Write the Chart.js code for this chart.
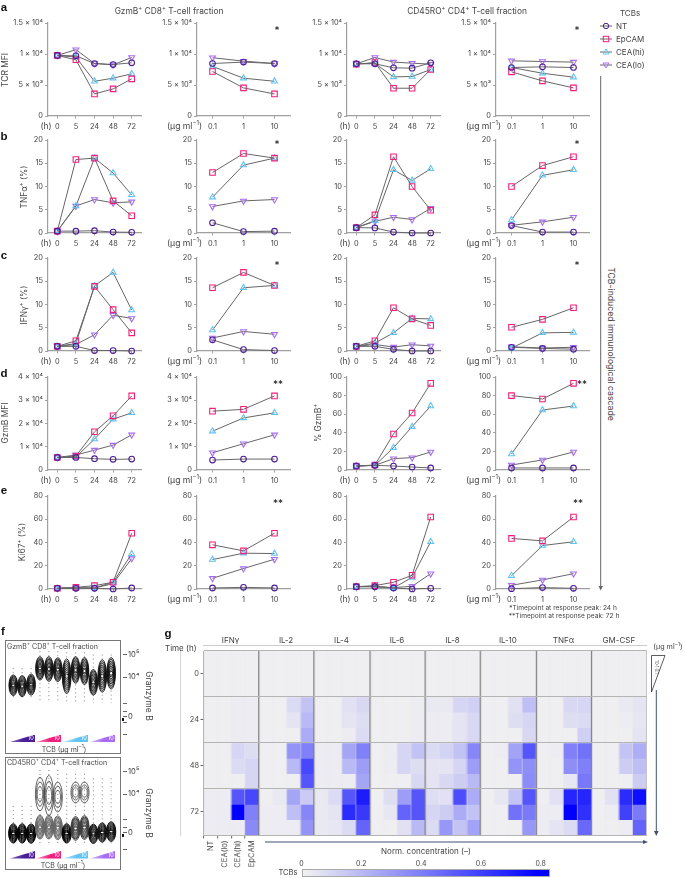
<!DOCTYPE html>
<html lang="en">
<head>
<meta charset="UTF-8">
<title>TCB-induced immunological cascade</title>
<script src="https://cdn.jsdelivr.net/npm/chart.js"></script>
<style>
  body { margin: 0; background: #fff; font-family: Inter, "Noto Sans", sans-serif; color: #444; }
  #page { position: relative; width: 685px; height: 878px; overflow: hidden; }
  canvas { position: absolute; }
  .t { position: absolute; white-space: nowrap; transform: translate(-50%, -50%); line-height: 1; }
  .t sup { font-size: 70%; line-height: 0; }
  .letter { font-weight: 700; font-size: 11.5px; color: #111; font-family: "Liberation Sans", sans-serif; }
  .wedge { position: absolute; clip-path: polygon(0 100%, 100% 0, 100% 100%); }
  .box { position: absolute; border: 1px solid #777; box-sizing: border-box; }
  svg { position: absolute; left: 0; top: 0; }
</style>
</head>
<body>
<div id="page"></div>
<script>
const timeLabels = ['0', '5', '24', '48', '72'];
const doseLabels = ['0.1', '1', '10'];
const tcbNames = ['NT', 'EpCAM', 'CEA(hi)', 'CEA(lo)'];

const tcrTicks = [0, 5000, 10000, 15000];
const tcrTickLabels = ['0', '5 × 10³', '1 × 10⁴', '1.5 × 10⁴'];
const pct20Ticks = [0, 5, 10, 15, 20];
const gzmbTicks = [0, 10000, 20000, 30000, 40000];
const gzmbTickLabels = ['0', '1 × 10⁴', '2 × 10⁴', '3 × 10⁴', '4 × 10⁴'];
const pct100Ticks = [0, 20, 40, 60, 80, 100];
const ki67Ticks = [0, 20, 40, 60, 80];

// each panel: NT, EpCAM, CEA(hi), CEA(lo)
const tcrCd8Time = [[9770, 9700, 8470, 8300, 8580], [9770, 9065, 3560, 4370, 5990], [9770, 9500, 5600, 6100, 6800], [9770, 10700, 8470, 8250, 9440]];
const tcrCd8Dose = [[8470, 8690, 8470], [7180, 4530, 3560], [8000, 6100, 5600], [9400, 8850, 8470]];
const tcrCd4Time = [[8420, 8420, 7770, 7720, 8580], [8360, 8630, 4480, 4480, 7500], [8420, 8500, 6310, 6370, 7500], [8420, 9440, 8690, 8520, 8360]];
const tcrCd4Dose = [[7820, 7930, 7820], [7120, 5660, 4530], [7820, 6900, 6260], [8900, 8790, 8690]];

const tnfCd8Time = [[0.4, 0.4, 0.5, 0.2, 0.15], [0.4, 15.8, 16.1, 6.9, 3.7], [0.4, 5.8, 16.1, 12.9, 8.2], [0.4, 5.8, 7.2, 6.5, 6.7]];
const tnfCd8Dose = [[2.2, 0.3, 0.4], [13, 17.1, 16.1], [7.7, 14.6, 16.1], [5.7, 6.9, 7.2]];
const tnfCd4Time = [[1.15, 1.1, 0.2, 0, 0], [1.15, 3.9, 16.4, 10, 4.9], [1.15, 2.65, 13.6, 11.3, 13.8], [1.15, 2.5, 3.4, 2.9, 5.3]];
const tnfCd4Dose = [[1.6, 0.2, 0.2], [10, 14.5, 16.4], [2.8, 12.4, 13.6], [1.65, 2.4, 3.4]];

const ifnCd8Time = [[1, 1, 0.1, 0.1, 0], [1, 2.2, 13.9, 8.9, 3.9], [1, 1.6, 14, 16.9, 8.8], [1, 1.4, 3.5, 7.7, 7]];
const ifnCd8Dose = [[2.4, 0.3, 0.1], [13.6, 16.9, 14.1], [4.5, 13.6, 14.1], [2.8, 4.2, 3.6]];
const ifnCd4Time = [[1, 1, 0.35, 0, 0], [1, 2.2, 9.3, 6.9, 5.5], [1, 1.7, 3.9, 7, 6.9], [1, 1.4, 0.85, 1.35, 1.1]];
const ifnCd4Dose = [[0.8, 0.55, 0.4], [5.1, 6.8, 9.3], [0.6, 3.9, 4], [0.9, 0.65, 0.8]];

const gzmbCd8Time = [[5400, 5400, 4860, 4570, 4700], [5400, 6000, 16430, 23300, 31860], [5400, 5570, 13300, 21860, 24570], [5400, 6430, 8570, 10700, 15140]];
const gzmbCd8Dose = [[4290, 4700, 4700], [25300, 26100, 31860], [16700, 22400, 24570], [7430, 11300, 15140]];
const gzmbCd4Time = [[4.3, 5, 4.3, 3.2, 2.2], [4.3, 5.4, 38.7, 61.3, 93.2], [4.3, 5, 24, 46.6, 68.8], [4.3, 5, 12.2, 13.3, 19.4]];
const gzmbCd4Dose = [[2.2, 2.2, 2.2], [80, 76.3, 93.2], [17.2, 64.5, 68.8], [5.4, 10.8, 19.4]];

const kiCd8Time = [[0.6, 0.6, 0.6, 0, 0.9], [0.6, 1.4, 2.9, 5.8, 48], [0.6, 0.9, 0.9, 5.8, 30.2], [0.6, 0.9, 0.9, 4.6, 26.2]];
const kiCd8Dose = [[0.9, 1.4, 0.9], [38, 32.8, 48], [25.3, 30.8, 30.5], [9.2, 17.6, 25.6]];
const kiCd4Time = [[2, 2, 0.9, 0, 0.6], [2, 2.9, 5.8, 11.8, 61.9], [2, 2.3, 0.9, 10, 40.6], [2, 2, 1.2, 2.3, 13.2]];
const kiCd4Dose = [[0.3, 1.2, 0.6], [43.5, 41.4, 61.9], [11.5, 37.4, 40.6], [3.2, 7.8, 13.2]];

// panel f, positions in decades on the biexponential axis
const fCd8Center = [3.64, 3.6, 3.67, 4.39, 4.36, 4.33, 4.04, 4.32, 4.27, 3.77, 4.05, 4.17];
const fCd8Half = [0.46, 0.47, 0.47, 0.52, 0.55, 0.53, 0.77, 0.59, 0.6, 0.57, 0.72, 0.7];
const fCd8TailHi = [4.4, 4.4, 4.4, 5.15, 5.15, 5.15, 5.1, 5.1, 5.1, 5, 5, 5];
const fCd8TailLo = [3, 3, 3, 2.85, 2.85, 2.85, 2.85, 2.85, 2.85, 2.85, 2.85, 2.85];
const fCd8Ticks = [5, 4, 2.84, 2.47, 2.24, 2, 1.47];
const fCd4Center = [2.25, 2.25, 2.24, 2.53, 2.53, 2.5, 2.25, 2.47, 2.51, 2.23, 2.29, 2.33];
const fCd4Half = [0.43, 0.43, 0.43, 0.53, 0.53, 0.53, 0.43, 0.53, 0.53, 0.43, 0.43, 0.44];
const fCd4UpperCenter = [null, null, null, 4, 3.93, 3.87, null, 4.07, 4.07, null, null, null];
const fCd4UpperHalf = [0, 0, 0, 0.75, 0.9, 0.67, 0, 0.47, 0.47, 0, 0, 0];
const fCd4TailHi = [3.47, 3.47, 3.47, 5.07, 5.07, 5.07, 4.9, 4.9, 4.9, 4.7, 4.7, 4.7];
const fCd4TailLo = [1.73, 1.73, 1.73, 1.73, 1.73, 1.73, 1.73, 1.73, 1.73, 1.73, 1.73, 1.73];
const fCd4Ticks = [5, 4, 2.87, 2.53, 2.27, 1.53];

// panel g, rows are 0 h, 24 h, 48 h, 72 h with three doses each; columns NT, CEA(lo), CEA(hi), EpCAM
const cytokines = ['IFNγ', 'IL-2', 'IL-4', 'IL-6', 'IL-8', 'IL-10', 'TNFα', 'GM-CSF'];
const doseColumns = ['NT', 'CEA(lo)', 'CEA(hi)', 'EpCAM'];
const timeRows = ['0', '24', '48', '72'];
const zeroBlock = [[0.01, 0.01, 0.01, 0.01], [0.01, 0.01, 0.01, 0.01], [0.01, 0.01, 0.01, 0.01]];
const heatIFNg = [...zeroBlock, [0.01, 0.01, 0.02, 0.02], [0.01, 0.01, 0.02, 0.02], [0.01, 0.01, 0.02, 0.02],
  [0.01, 0.01, 0.1, 0.07], [0.01, 0.01, 0.08, 0.1], [0.01, 0.01, 0.01, 0.1],
  [0.02, 0.02, 0.55, 0.6], [0.02, 0.02, 0.85, 0.4], [0.02, 0.02, 0.02, 0.37]];
const heatIL2 = [...zeroBlock, [0.01, 0.01, 0.08, 0.17], [0.01, 0.01, 0.05, 0.2], [0.01, 0.01, 0.01, 0.25],
  [0.01, 0.01, 0.33, 0.4], [0.01, 0.01, 0.2, 0.6], [0.01, 0.01, 0.01, 0.55],
  [0.01, 0.03, 0.27, 0.14], [0.02, 0.02, 0.18, 0.38], [0.02, 0.02, 0.02, 0.33]];
const heatIL4 = [...zeroBlock, [0.01, 0.01, 0.06, 0.09], [0.01, 0.01, 0.05, 0.07], [0.01, 0.01, 0.02, 0.08],
  [0.02, 0.02, 0.27, 0.4], [0.02, 0.02, 0.2, 0.3], [0.02, 0.02, 0.02, 0.27],
  [0.03, 0.08, 0.55, 0.75], [0.03, 0.05, 0.7, 0.65], [0.03, 0.04, 0.08, 0.5]];
const heatIL6 = [...zeroBlock, [0.01, 0.01, 0.01, 0.02], [0.01, 0.01, 0.01, 0.02], [0.01, 0.01, 0.01, 0.02],
  [0.01, 0.02, 0.1, 0.17], [0.01, 0.02, 0.1, 0.07], [0.01, 0.01, 0.01, 0.09],
  [0.01, 0.07, 0.3, 0.55], [0.01, 0.04, 0.5, 0.55], [0.01, 0.01, 0.06, 0.2]];
const heatIL8 = [...zeroBlock, [0.03, 0.03, 0.1, 0.12], [0.02, 0.02, 0.05, 0.09], [0.02, 0.02, 0.05, 0.09],
  [0.08, 0.11, 0.17, 0.38], [0.05, 0.05, 0.1, 0.3], [0.05, 0.09, 0.13, 0.2],
  [0.07, 0.06, 0.58, 0.25], [0.1, 0.13, 0.25, 0.17], [0.08, 0.32, 0.16, 0.28]];
const heatIL10 = [...zeroBlock, [0.01, 0.01, 0.06, 0.18], [0.01, 0.01, 0.07, 0.1], [0.01, 0.01, 0.01, 0.09],
  [0.01, 0.02, 0.28, 0.55], [0.01, 0.01, 0.33, 0.35], [0.01, 0.01, 0.01, 0.36],
  [0.01, 0.04, 0.16, 0.55], [0.01, 0.01, 0.45, 0.42], [0.01, 0.01, 0.01, 0.32]];
const heatTNFa = [...zeroBlock, [0.01, 0.01, 0.09, 0.1], [0.01, 0.01, 0.07, 0.08], [0.01, 0.01, 0.01, 0.12],
  [0.01, 0.02, 0.4, 0.45], [0.01, 0.01, 0.35, 0.4], [0.01, 0.01, 0.04, 0.43],
  [0.01, 0.06, 0.72, 0.72], [0.02, 0.02, 0.85, 0.68], [0.02, 0.05, 0.08, 0.48]];
const heatGMCSF = [...zeroBlock, [0.01, 0.01, 0.03, 0.05], [0.01, 0.01, 0.02, 0.04], [0.01, 0.01, 0.01, 0.05],
  [0.01, 0.01, 0.16, 0.24], [0.01, 0.01, 0.13, 0.18], [0.01, 0.01, 0.01, 0.13],
  [0.01, 0.06, 0.7, 0.8], [0.01, 0.02, 0.62, 0.42], [0.01, 0.01, 0.02, 0.5]];
const heatAll = [heatIFNg, heatIL2, heatIL4, heatIL6, heatIL8, heatIL10, heatTNFa, heatGMCSF];

const page = document.getElementById('page');
const colors = ['#4a1d96', '#f01f7c', '#62c4f4', '#a86cf2'];
const markers = [
  { pointStyle: 'circle', pointRadius: 2.8, pointRotation: 0 },
  { pointStyle: 'rect', pointRadius: 3.9, pointRotation: 0 },
  { pointStyle: 'triangle', pointRadius: 3.4, pointRotation: 0 },
  { pointStyle: 'triangle', pointRadius: 3.4, pointRotation: 180 }
];
const axisGrey = '#a0a0a0';
const tickFont = { family: 'Inter', size: 7.4 };

function text(html, x, y, size, extra) {
  const el = document.createElement('div');
  el.className = 't';
  el.innerHTML = html;
  el.style.left = x + 'px';
  el.style.top = y + 'px';
  el.style.fontSize = size + 'px';
  if (extra) Object.assign(el.style, extra);
  page.appendChild(el);
  return el;
}

function addCanvas(left, top, w, h) {
  const c = document.createElement('canvas');
  c.width = w;
  c.height = h;
  c.style.left = left + 'px';
  c.style.top = top + 'px';
  c.style.width = w + 'px';
  c.style.height = h + 'px';
  page.appendChild(c);
  return c.getContext('2d');
}

// small line panels
const plotSize = 93;
function linePanel(left, top, xLabels, series, yTicks, yLabels) {
  const yMax = yTicks[yTicks.length - 1];
  const ctx = addCanvas(left - 44, top - 8, 44 + plotSize + 8, 8 + plotSize + 22);
  new Chart(ctx, {
    type: 'line',
    data: {
      labels: xLabels,
      datasets: series.map((vals, i) => ({
        label: tcbNames[i],
        data: vals,
        borderColor: '#666',
        borderWidth: 1,
        tension: 0,
        clip: false,
        pointBorderColor: colors[i],
        pointBackgroundColor: 'rgba(255,255,255,0)',
        pointBorderWidth: 1.1,
        ...markers[i]
      }))
    },
    options: {
      responsive: false,
      animation: false,
      events: [],
      layout: { padding: { top: 8, right: 8 } },
      plugins: { legend: { display: false }, tooltip: { enabled: false } },
      scales: {
        x: {
          offset: true,
          afterFit: s => { s.height = 22; },
          border: { color: axisGrey, width: 1.2 },
          grid: { drawOnChartArea: false, tickLength: 2.5, color: axisGrey },
          ticks: { font: tickFont, color: '#444', padding: 3.5, maxRotation: 0, autoSkip: false }
        },
        y: {
          min: 0,
          max: yMax,
          afterFit: s => { s.width = 44; },
          afterBuildTicks: s => { s.ticks = yTicks.map(v => ({ value: v })); },
          border: { color: axisGrey, width: 1.2 },
          grid: { drawOnChartArea: false, tickLength: 3, color: axisGrey },
          ticks: {
            font: tickFont,
            color: '#444',
            padding: 2,
            callback: v => (yLabels ? yLabels[yTicks.indexOf(v)] : String(v))
          }
        }
      }
    }
  });
}

const rowTops = [23, 140, 258, 377, 496];
const colLefts = [48, 197, 347, 496];
const rows = [
  [[tcrCd8Time, tcrCd8Dose, tcrCd4Time, tcrCd4Dose], [tcrTicks, tcrTicks, tcrTicks, tcrTicks], tcrTickLabels],
  [[tnfCd8Time, tnfCd8Dose, tnfCd4Time, tnfCd4Dose], [pct20Ticks, pct20Ticks, pct20Ticks, pct20Ticks], null],
  [[ifnCd8Time, ifnCd8Dose, ifnCd4Time, ifnCd4Dose], [pct20Ticks, pct20Ticks, pct20Ticks, pct20Ticks], null],
  [[gzmbCd8Time, gzmbCd8Dose, gzmbCd4Time, gzmbCd4Dose], [gzmbTicks, gzmbTicks, pct100Ticks, pct100Ticks], gzmbTickLabels],
  [[kiCd8Time, kiCd8Dose, kiCd4Time, kiCd4Dose], [ki67Ticks, ki67Ticks, ki67Ticks, ki67Ticks], null]
];
rows.forEach((row, r) => {
  colLefts.forEach((left, c) => {
    const labels = c % 2 ? doseLabels : timeLabels;
    const tickLabels = (r === 3 && c > 1) ? null : row[2];
    linePanel(left, rowTops[r], labels, row[0][c], row[1][c], tickLabels);
    if (c % 2) text('(µg ml<sup>−1</sup>)', left - 12.5, rowTops[r] + plotSize + 10, 8.6);
    else text('(h)', left - 2, rowTops[r] + plotSize + 10, 8.4);
  });
});

// panel headings and axis titles
text('GzmB<sup>+</sup> CD8<sup>+</sup> T-cell fraction', 169, 11, 8.4);
text('CD45RO<sup>+</sup> CD4<sup>+</sup> T-cell fraction', 467, 11, 8.4);
[['a', 4, 8], ['b', 4, 137], ['c', 4, 256], ['d', 4, 374], ['e', 4, 491], ['f', 3, 632], ['g', 168, 634]].forEach(l => {
  text(l[0], l[1], l[2], 11.5).classList.add('letter');
});
const rotL = { transform: 'translate(-50%, -50%) rotate(-90deg)' };
const rotR = { transform: 'translate(-50%, -50%) rotate(90deg)' };
text('TCR MFI', 5, 70, 8.4, rotL);
text('TNFα<sup>+</sup> (%)', 24, 187, 8.4, rotL);
text('IFNγ<sup>+</sup> (%)', 24, 305, 8.4, rotL);
text('GzmB MFI', 5, 423, 8.4, rotL);
text('% GzmB<sup>+</sup>', 318, 423, 8.4, rotL);
text('Ki67<sup>+</sup> (%)', 22, 542, 8.4, rotL);
text('TCB-induced immunological cascade', 611, 344, 8.7, rotR);

[['*', 277, 30], ['*', 577, 30], ['*', 277, 144], ['*', 577, 144], ['*', 277, 265], ['*', 577, 265],
 ['**', 278, 384], ['**', 582, 384], ['**', 278, 503], ['**', 578, 503]].forEach(s => {
  text(s[0], s[1], s[2], 10, { color: '#111' });
});
text('*Timepoint at response peak: 24 h', 563, 608, 6.6);
text('**Timepoint at response peak: 72 h', 564, 616, 6.6);

// legend
text('TCBs', 630, 12.5, 8);
tcbNames.forEach((n, i) => {
  text(n, 616, 26 + i * 13, 8, { transform: 'translate(0, -50%)' });
});

// flow contour drawing, positions come from the chart scales
const blobRings = [1, 0.89, 0.78, 0.67, 0.56, 0.45, 0.34, 0.23, 0.12];
const openRings = [1, 0.72, 0.44];
function contourPlugin(layers) {
  return {
    id: 'contours',
    afterDatasetsDraw(chart) {
      const c = chart.ctx;
      const xs = chart.scales.x;
      const ys = chart.scales.y;
      layers.forEach(layer => {
        layer.centers.forEach((center, i) => {
          if (center === null) return;
          const x = xs.getPixelForValue(i);
          const y = ys.getPixelForValue(center);
          const h = Math.abs(ys.getPixelForValue(center + layer.halves[i]) - y);
          c.strokeStyle = layer.shade ? layer.shade[i] : layer.color;
          c.lineWidth = layer.width;
          layer.rings.forEach(f => {
            c.beginPath();
            c.ellipse(x, y, layer.halfWidth * (0.3 + 0.7 * f), h * f, 0, 0, Math.PI * 2);
            c.stroke();
          });
        });
      });
    }
  };
}

function flowPanel(top, height, yMax, yMin, ticks, zeroTick, tailHi, tailLo, layers) {
  const tails = [];
  tailHi.forEach((hi, i) => {
    tails.push({ x: i, y: hi }, { x: i, y: tailLo[i] }, { x: i, y: null });
  });
  const ctx = addCanvas(5, top, 118 + 26, height);
  new Chart(ctx, {
    type: 'scatter',
    data: {
      datasets: [{
        data: tails,
        showLine: true,
        spanGaps: false,
        pointRadius: 0,
        borderColor: '#777',
        borderWidth: 0.9,
        borderDash: [1, 3]
      }]
    },
    options: {
      responsive: false,
      animation: false,
      events: [],
      layout: { padding: 0 },
      plugins: { legend: { display: false }, tooltip: { enabled: false } },
      scales: {
        x: { type: 'linear', display: false, min: -0.93, max: 12.33 },
        y: {
          position: 'right',
          min: yMin,
          max: yMax,
          afterFit: s => { s.width = 26; },
          afterBuildTicks: s => { s.ticks = ticks.map(v => ({ value: v })); },
          border: { display: false },
          grid: { drawOnChartArea: false, tickLength: 4, color: '#666' },
          ticks: {
            font: { family: 'Inter', size: 7.6 },
            color: '#444',
            padding: 1,
            callback: v => (v === 5 ? '10⁵' : v === 4 ? '10⁴' : v === zeroTick ? '0' : '')
          }
        }
      }
    },
    plugins: [contourPlugin(layers)]
  });
}

const boxTop = document.createElement('div');
boxTop.className = 'box';
Object.assign(boxTop.style, { left: '5px', top: '640px', width: '116px', height: '114px' });
page.appendChild(boxTop);
const boxBottom = document.createElement('div');
boxBottom.className = 'box';
Object.assign(boxBottom.style, { left: '5px', top: '757px', width: '116px', height: '113px' });
page.appendChild(boxBottom);

flowPanel(640, 114, 5.4, 0.84, fCd8Ticks, 2.24, fCd8TailHi, fCd8TailLo, [
  { centers: fCd8Center, halves: fCd8Half, rings: blobRings, color: '#111', width: 0.9, halfWidth: 4.3 }
]);
const lowerShade = ['#000', '#000', '#000', '#666', '#666', '#666', '#000', '#3c3c3c', '#3c3c3c', '#111', '#111', '#111'];
flowPanel(757, 113, 5.4, 0.87, fCd4Ticks, 2.27, fCd4TailHi, fCd4TailLo, [
  { centers: fCd4UpperCenter, halves: fCd4UpperHalf, rings: openRings, color: '#444', width: 0.8, halfWidth: 4.6 },
  { centers: fCd4Center, halves: fCd4Half, rings: blobRings, shade: lowerShade, color: '#000', width: 1, halfWidth: 4.6 }
]);

text('GzmB<sup>+</sup> CD8<sup>+</sup> T-cell fraction', 7, 645.8, 7, { transform: 'translate(0, -50%)' });
text('CD45RO<sup>+</sup> CD4<sup>+</sup> T-cell fraction', 7, 762, 7, { transform: 'translate(0, -50%)' });
text('TCB (µg ml<sup>−1</sup>)', 64, 748.5, 7);
text('TCB (µg ml<sup>−1</sup>)', 63, 865, 7);
text('Granzyme B', 149, 696, 8.6, rotR);
text('Granzyme B', 149, 813, 8.6, rotR);
[719, 835].forEach(y => {
  const m = document.createElement('div');
  Object.assign(m.style, { position: 'absolute', left: '121.5px', top: (y - 1.5) + 'px', width: '2px', height: '3px', background: '#111' });
  page.appendChild(m);
});

const wedgeLefts = [10, 36, 63, 90];
const wedgeFrom = ['#8a6ac0', '#f59cc2', '#bfe6fa', '#d8bff8'];
[734.5, 851].forEach(top => {
  wedgeLefts.forEach((left, i) => {
    const w = document.createElement('div');
    w.className = 'wedge';
    Object.assign(w.style, {
      left: left + 'px', top: top + 'px', width: '25px', height: '7.5px',
      background: 'linear-gradient(to right,' + wedgeFrom[i] + ',' + colors[i] + ' 55%)'
    });
    page.appendChild(w);
    text('10', left + 21, top + 4.5, 5.6, { color: '#fff' });
  });
});

// heatmap
function heatColor(v) {
  const t = Math.min(v / 0.85, 1);
  const r = Math.round(242 * (1 - t));
  const b = Math.round(242 + 13 * t);
  return 'rgb(' + r + ',' + r + ',' + b + ')';
}
const colLabels = [];
cytokines.forEach((c, i) => doseColumns.forEach((d, j) => colLabels.push(i === 0 ? d : c + ' ' + d)));
const rowDatasets = [];
for (let r = 0; r < 12; r++) {
  const vals = heatAll.flatMap(h => h[r]);
  rowDatasets.push({
    data: vals.map(() => 1),
    backgroundColor: vals.map(heatColor),
    borderWidth: 0,
    barPercentage: 1,
    categoryPercentage: 1,
    stack: 'heat'
  });
}
const heatTicks = [0, 1.5, 3, 4.5, 6, 7.5, 9, 10.5, 12];
new Chart(addCanvas(180, 645, 23.5 + 444 + 3, 190 + 44), {
  type: 'bar',
  data: { labels: colLabels, datasets: rowDatasets },
  options: {
    responsive: false,
    animation: false,
    events: [],
    layout: { padding: { top: 1.7, right: 3 } },
    plugins: { legend: { display: false }, tooltip: { enabled: false } },
    scales: {
      x: {
        stacked: true,
        afterFit: s => { s.height = 0; },
        border: { color: '#9a9a9a' },
        grid: {
          offset: true,
          z: 1,
          tickLength: 0,
          color: c => (c.index === undefined ? '#c4c4c4' : c.index === 0 ? '#b0b0b0' : c.index % 4 === 0 ? '#7c7c7c' : 'rgba(236,236,240,0.45)'),
          lineWidth: c => (c.index !== undefined && c.index % 4 === 0 && c.index > 0 ? 1.2 : 1)
        },
        ticks: { display: false }
      },
      x2: {
        type: 'category',
        axis: 'x',
        position: 'bottom',
        offset: true,
        labels: colLabels,
        afterFit: s => { s.height = 44; },
        border: { display: false },
        grid: {
          drawOnChartArea: false,
          tickLength: 3.5,
          tickColor: c => (c.index < 4 ? '#666' : 'rgba(0,0,0,0)'),
          color: 'rgba(0,0,0,0)'
        },
        ticks: {
          autoSkip: false,
          minRotation: 90,
          maxRotation: 90,
          font: { family: 'Inter', size: 7.6 },
          color: '#444',
          padding: 2,
          callback: (v, i) => (i < 4 ? doseColumns[i] : '')
        }
      },
      y: {
        stacked: true,
        reverse: true,
        min: 0,
        max: 12,
        afterFit: s => { s.width = 23.5; },
        afterBuildTicks: s => { s.ticks = heatTicks.map(v => ({ value: v })); },
        border: { color: '#b0b0b0' },
        grid: {
          z: 1,
          tickLength: 3,
          color: c => (c.tick && c.tick.value % 3 === 0 ? '#b4b4b4' : 'rgba(0,0,0,0)'),
          tickColor: c => (c.tick && c.tick.value % 3 === 0 ? 'rgba(0,0,0,0)' : '#666')
        },
        ticks: {
          font: { family: 'Inter', size: 7.4 },
          color: '#444',
          padding: 1.5,
          callback: v => (v % 3 === 1.5 ? timeRows[(v - 1.5) / 3] : '')
        }
      }
    }
  }
});

cytokines.forEach((c, i) => text(c, 203.3 + 13.87 * (i * 4 + 2) - 0.5, 639.5, 8));
text('Time (h)', 165, 648, 8, { transform: 'translate(0, -50%)' });
text('(µg ml<sup>−1</sup>)', 668, 647, 7.2);
text('Norm. concentration (–)', 426, 850.5, 8);
text('TCBs', 288, 873, 7.6);
['0', '0.2', '0.4', '0.6', '0.8'].forEach((s, i) => text(s, 301.5 + i * 59.8, 863, 7));
const bar = document.createElement('div');
Object.assign(bar.style, {
  position: 'absolute', left: '302px', top: '869px', width: '248px', height: '8px', boxSizing: 'border-box',
  border: '1px solid #aaa', background: 'linear-gradient(to right,#f2f2f2,#7979f8 50%,#0000ff 96%)'
});
page.appendChild(bar);

// arrows, cascade bar, legend glyphs
const glyphs = tcbNames.map((n, i) => {
  const y = 26 + i * 13;
  let m = '';
  if (i === 0) m = '<circle cx="606" cy="' + y + '" r="2.7" fill="none" stroke="' + colors[i] + '"/>';
  if (i === 1) m = '<rect x="603.3" y="' + (y - 2.7) + '" width="5.4" height="5.4" fill="none" stroke="' + colors[i] + '"/>';
  if (i === 2) m = '<polygon points="606,' + (y - 3) + ' 609,' + (y + 2) + ' 603,' + (y + 2) + '" fill="none" stroke="' + colors[i] + '"/>';
  if (i === 3) m = '<polygon points="606,' + (y + 3) + ' 609,' + (y - 2) + ' 603,' + (y - 2) + '" fill="none" stroke="' + colors[i] + '"/>';
  return '<line x1="600" x2="612" y1="' + y + '" y2="' + y + '" stroke="#666"/>' + m;
}).join('');
page.insertAdjacentHTML('beforeend',
  '<svg width="685" height="878">' + glyphs +
  '<line x1="600.7" x2="600.7" y1="76" y2="588" stroke="#666" stroke-width="1"/>' +
  '<polygon points="598.5,586 603,586 600.7,590.5" fill="#666"/>' +
  '<line x1="265" x2="645" y1="842" y2="842" stroke="#3f5070" stroke-width="1"/>' +
  '<polygon points="643,840 643,844 648,842" fill="#3f5070"/>' +
  '<line x1="656.3" x2="656.3" y1="690" y2="832" stroke="#3f5070" stroke-width="1"/>' +
  '<polygon points="654,831 658.6,831 656.3,836" fill="#3f5070"/>' +
  '<polygon points="651.5,655.5 665,655.5 651.5,692" fill="none" stroke="#333" stroke-width="0.8"/>' +
  '</svg>');
text('10·1·0.1', 655.5, 667, 4.2, rotR);
</script>
</body>
</html>
